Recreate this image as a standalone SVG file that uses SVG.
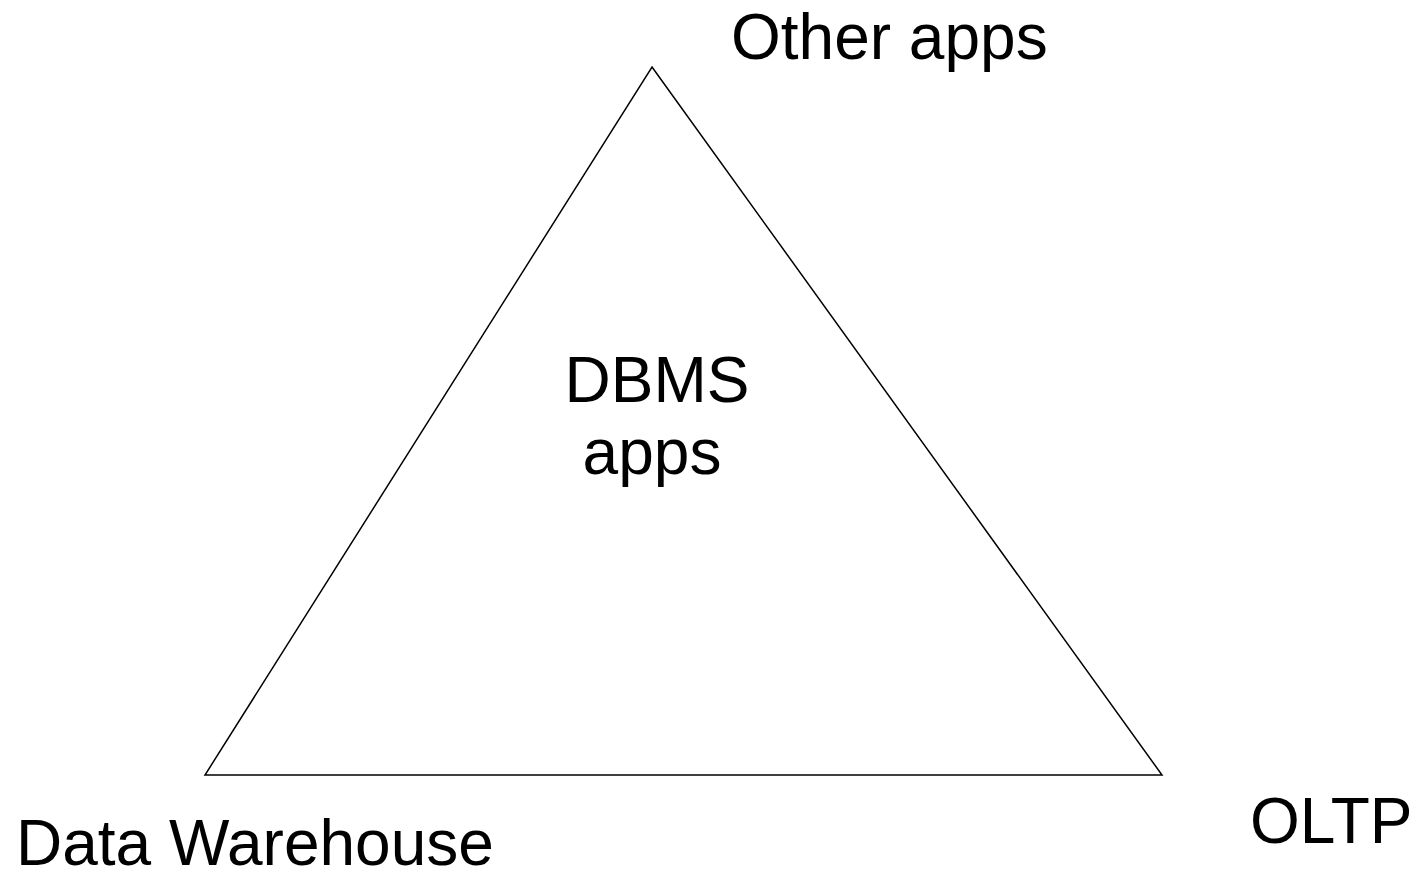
<svg xmlns="http://www.w3.org/2000/svg" width="1421" height="875" viewBox="0 0 1421 875">
<style>
text{font-family:"Liberation Sans",Arial,sans-serif;font-size:64px;fill:#000}
.edge{fill:none;stroke:#000;stroke-width:1.5}
</style>
<rect width="1421" height="875" fill="#fff"/>
<g id="connectors">
<path class="edge" d="M652 67 L1162 775 L205 775 Z"/>
</g>
<g id="node-other"><text x="731" y="59">Other apps</text></g>
<g id="node-dbms"><text x="657" y="402" text-anchor="middle">DBMS</text><text x="652" y="474" text-anchor="middle">apps</text></g>
<g id="node-dw"><text x="16" y="865">Data Warehouse</text></g>
<g id="node-oltp"><text x="1250" y="843">OLTP</text></g>
</svg>
